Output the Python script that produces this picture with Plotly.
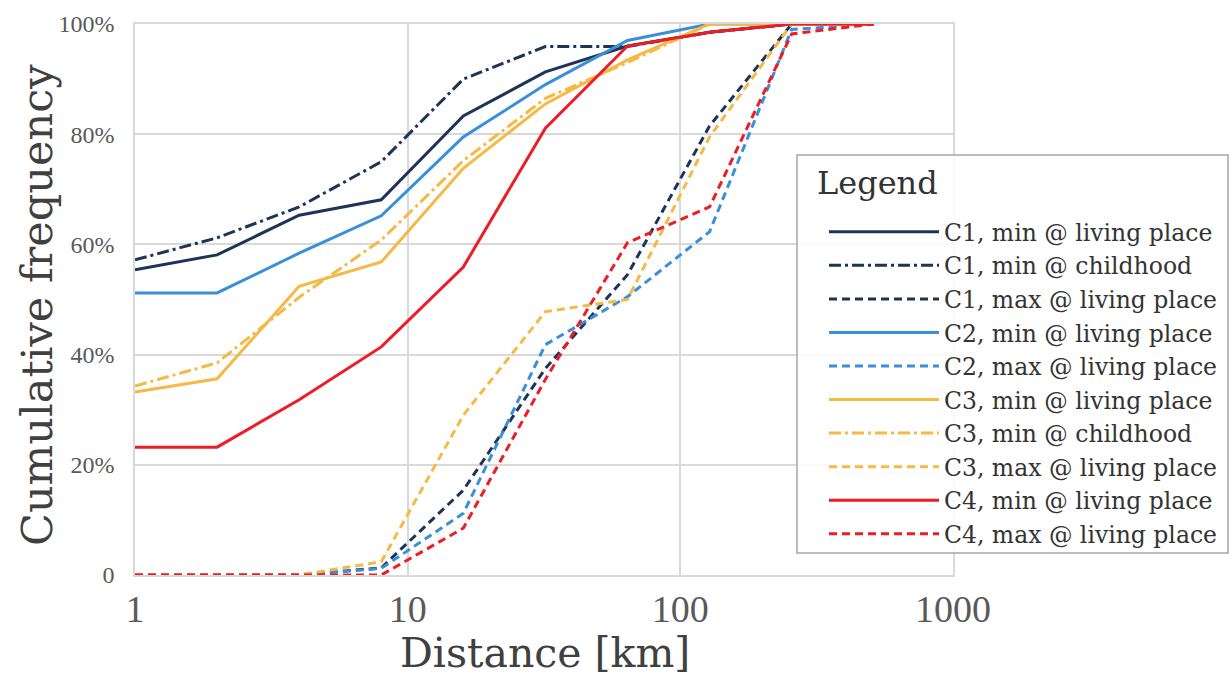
import plotly.graph_objects as go

# ---- data ----
distance_km = [1, 2, 4, 8, 16, 32, 64, 128, 256, 512]

c1_min_living = [55.4, 58.1, 65.3, 68.1, 83.3, 91.3, 96.0, 98.5, 100, 100]
c1_min_child = [57.2, 61.2, 66.8, 75.0, 90.0, 95.9, 95.9, 98.5, 100, 100]
c1_max_living = [0, 0, 0, 1.3, 15.4, 37.5, 54.5, 81.5, 100, 100]
c2_min_living = [51.2, 51.2, 58.4, 65.2, 79.5, 89.0, 97.0, 100, 100, 100]
c2_max_living = [0, 0, 0, 1.2, 11.2, 41.8, 50.5, 62.3, 99.0, 100]
c3_min_living = [33.2, 35.6, 52.4, 56.8, 73.8, 85.5, 93.5, 100, 100, 100]
c3_min_child = [34.3, 38.5, 50.4, 60.8, 75.2, 86.5, 93.0, 100, 100, 100]
c3_max_living = [0, 0, 0, 2.4, 29.0, 47.8, 50.0, 79.5, 100, 100]
c4_min_living = [23.2, 23.2, 31.8, 41.4, 55.9, 81.1, 96.0, 98.5, 100, 100]
c4_max_living = [0, 0, 0, 0, 8.5, 35.5, 60.3, 66.8, 98.2, 100]

series_names = [
    "C1, min @ living place", "C1, min @ childhood", "C1, max @ living place",
    "C2, min @ living place", "C2, max @ living place",
    "C3, min @ living place", "C3, min @ childhood", "C3, max @ living place",
    "C4, min @ living place", "C4, max @ living place",
]
series_values = [
    c1_min_living, c1_min_child, c1_max_living,
    c2_min_living, c2_max_living,
    c3_min_living, c3_min_child, c3_max_living,
    c4_min_living, c4_max_living,
]

x_tickvals = [1, 10, 100, 1000]
x_ticktext = ["1", "10", "100", "1000"]
y_tickvals = [0, 20, 40, 60, 80, 100]
y_ticktext = ["0", "20%", "40%", "60%", "80%", "100%"]

# ---- styles ----
NAVY = "#1c3557"
BLUE = "#3a8fd9"
YELLOW = "#f5b945"
RED = "#ee1c25"
DASH = "8px,5px"
DASHDOT = "12px,4px,3px,4px"
series_styles = [
    (NAVY, "solid"), (NAVY, DASHDOT), (NAVY, DASH),
    (BLUE, "solid"), (BLUE, DASH),
    (YELLOW, "solid"), (YELLOW, DASHDOT), (YELLOW, DASH),
    (RED, "solid"), (RED, DASH),
]

fig = go.Figure()
for i, (name, vals, (col, dash)) in enumerate(zip(series_names, series_values, series_styles)):
    fig.add_trace(go.Scatter(
        x=distance_km, y=vals, mode="lines", name=name,
        legendgroup=f"g{i}",
        line=dict(color=col, width=3, dash=dash),
    ))

TITLE_FONT = "DejaVu Serif"
TICK_FONT = "Liberation Serif"

L, R, T, B = 135, 953, 24, 575
PW, PH = R - L, B - T


def px_x(p):
    return (p - L) / PW


def px_y(p):
    return (B - p) / PH


fig.update_layout(
    width=1229, height=679,
    margin=dict(l=L, r=1229 - R, t=T, b=679 - B, autoexpand=False),
    paper_bgcolor="white", plot_bgcolor="white",
    showlegend=True,
    legend=dict(
        font=dict(family=TITLE_FONT, size=23.5, color="#333333"),
        x=px_x(824), y=px_y(210),
        xanchor="left", yanchor="top",
        bgcolor="rgba(0,0,0,0)", borderwidth=0,
        itemwidth=110, tracegroupgap=3, traceorder="normal",
    ),
    shapes=[
        dict(type="rect", xref="paper", yref="paper",
             x0=px_x(797), x1=px_x(1228), y0=px_y(553), y1=px_y(155),
             line=dict(color="#a6a6a6", width=1.5),
             fillcolor="rgba(255,255,255,0.85)", layer="above"),
    ],
    xaxis=dict(
        type="log", range=[0, 3],
        tickvals=x_tickvals, ticktext=x_ticktext,
        tickfont=dict(family=TICK_FONT, size=38, color="#595959"),
        showgrid=True, gridcolor="#d9d9d9", gridwidth=1.5,
        showline=True, linecolor="#d9d9d9", linewidth=1.5, mirror=True,
        zeroline=False, ticks="",
    ),
    yaxis=dict(
        range=[0, 100],
        tickvals=y_tickvals, ticktext=y_ticktext,
        tickfont=dict(family=TICK_FONT, size=24, color="#595959"),
        showgrid=True, gridcolor="#d9d9d9", gridwidth=1.5,
        showline=True, linecolor="#d9d9d9", linewidth=1.5, mirror=True,
        zeroline=False, ticks="", ticklabelstandoff=14,
    ),
    annotations=[
        dict(text="Legend",
             xref="paper", yref="paper",
             x=px_x(815), y=px_y(183),
             xanchor="left", yanchor="middle", showarrow=False,
             font=dict(family=TITLE_FONT, size=32, color="#333333")),
        dict(text="Cumulative frequency", textangle=-90,
             xref="paper", yref="paper",
             x=px_x(37), y=px_y(305),
             xanchor="center", yanchor="middle", showarrow=False,
             font=dict(family=TITLE_FONT, size=43, color="#404040")),
        dict(text="Distance [km]",
             xref="paper", yref="paper",
             x=px_x(545), y=px_y(653),
             xanchor="center", yanchor="middle", showarrow=False,
             font=dict(family=TITLE_FONT, size=41, color="#404040")),
    ],
)

fig.write_html("out.html", config={"displayModeBar": False},
               post_script="document.body.style.margin='0';")
